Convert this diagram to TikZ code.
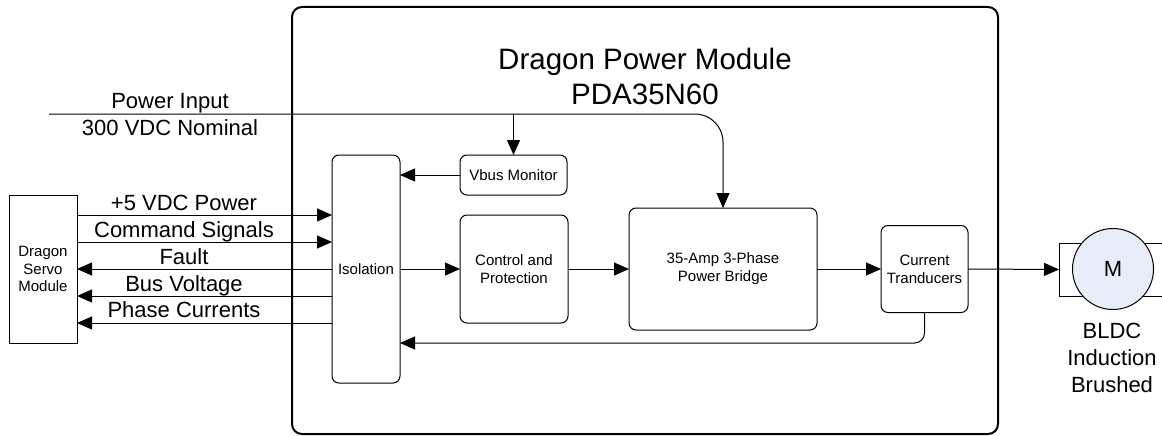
\documentclass[tikz,border=0pt]{standalone}
\usepackage{fontspec}
\setmainfont{Liberation Sans}
\usetikzlibrary{arrows.meta}
\definecolor{motorfill}{RGB}{230,236,248}
\begin{document}
\begin{tikzpicture}[x=1pt,y=-1pt, line width=1pt,
  arr/.style={-{Triangle[length=15pt,width=13pt]}},
  blk/.style={draw, rounded corners=7pt, align=center, inner sep=0pt, outer sep=0pt, font=\fontsize{15}{18}\selectfont},
  plain/.style={draw, align=center, inner sep=0pt, outer sep=0pt, font=\fontsize{15}{17.5}\selectfont},
  lbl/.style={font=\fontsize{22}{27}\selectfont, inner sep=0pt, anchor=base, align=center},
  ttl/.style={font=\fontsize{29.5}{35}\selectfont, inner sep=0pt, align=center},
]
\useasboundingbox (0,0) rectangle (1162,436);
% outer module frame
\node[draw, line width=2pt, rounded corners=10pt, minimum width=706pt, minimum height=427pt, inner sep=0pt] (pm) at (645,220.5) {};
\node[ttl] (title) at (645,76) {Dragon Power Module\\PDA35N60};

% blocks
\node[plain, minimum width=68pt, minimum height=148pt] (servo) at (43,269) {Dragon\\Servo\\Module};
\node[blk, minimum width=68pt, minimum height=228pt] (iso) at (366,269) {Isolation};
\node[blk, minimum width=107pt, minimum height=40pt] (vbus) at (513.5,175) {Vbus Monitor};
\node[blk, minimum width=108pt, minimum height=108pt] (ctrl) at (514,269) {Control and\\Protection};
\node[blk, minimum width=188pt, minimum height=122pt] (bridge) at (723,269) {35-Amp 3-Phase\\Power Bridge};
\node[blk, minimum width=87pt, minimum height=87pt] (cur) at (924.5,269) {Current\\Tranducers};
\node[draw, minimum width=108pt, minimum height=53pt, inner sep=0pt, outer sep=0pt] (mframe) at (1113,269.5) {};
\node[draw, circle, fill=motorfill, minimum size=81pt, inner sep=0pt, font=\fontsize{22}{26}\selectfont] (motor) at (1113,269) {M};
\node[lbl, anchor=center] (mlab) at (1112,358) {BLDC\\Induction\\Brushed};

% power input
\coordinate (pin) at (49,114);
\node[lbl] (pwr1) at (170,108) {Power Input};
\node[lbl] (pwr2) at (170,135) {300 VDC Nominal};
\draw[arr, rounded corners=28pt] (pin) -| (bridge.north);
\draw[arr] (vbus.north |- pin) -- (vbus.north);

% servo interface
\draw[arr] (servo.east |- 0,215) -- (iso.west |- 0,215);
\draw[arr] (servo.east |- 0,242) -- (iso.west |- 0,242);
\draw[arr] (iso.west |- 0,269) -- (servo.east |- 0,269);
\draw[arr] (iso.west |- 0,296) -- (servo.east |- 0,296);
\draw[arr] (iso.west |- 0,323) -- (servo.east |- 0,323);
\node[lbl] (l1) at (184,210) {+5 VDC Power};
\node[lbl] (l2) at (184,237) {Command Signals};
\node[lbl] (l3) at (184,264) {Fault};
\node[lbl] (l4) at (184,291) {Bus Voltage};
\node[lbl] (l5) at (184,317) {Phase Currents};

% internal flow
\draw[arr] (vbus.west) -- (vbus.west -| iso.east);
\draw[arr] (iso.east) -- (ctrl.west);
\draw[arr] (ctrl.east) -- (bridge.west);
\draw[arr] (bridge.east) -- (cur.west);
\draw[arr] (cur.east) -- (mframe.west);
\draw[arr, rounded corners=10pt] (cur.south) |- (iso.east |- 0,343);
\end{tikzpicture}
\end{document}
